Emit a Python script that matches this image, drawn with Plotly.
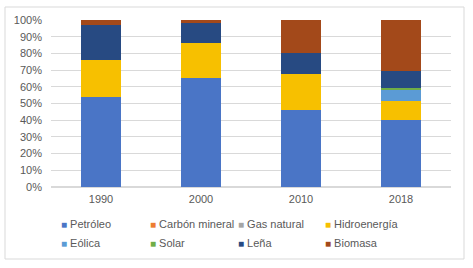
import plotly.graph_objects as go

years = ["1990", "2000", "2010", "2018"]
petroleo = [54, 65, 46, 40]
carbon = [0, 0, 0, 0]
gas = [0, 0, 0, 0]
hidro = [22, 21, 21.5, 11.3]
eolica = [0, 0, 0, 7.3]
solar = [0, 0, 0, 0.6]
lena = [21, 12.4, 13, 10.4]
biomasa = [3, 1.6, 19.5, 30.4]

series = [
    ("Petróleo", petroleo, "#4A75C6"),
    ("Carbón mineral", carbon, "#ED7D31"),
    ("Gas natural", gas, "#A5A5A5"),
    ("Hidroenergía", hidro, "#F7C000"),
    ("Eólica", eolica, "#5B9BD5"),
    ("Solar", solar, "#70AD47"),
    ("Leña", lena, "#274A82"),
    ("Biomasa", biomasa, "#A3491A"),
]
legend_ids = ["legend", "legend2", "legend3", "legend4"]

fig = go.Figure()
for name, vals, col in series:
    fig.add_trace(go.Bar(x=years, y=vals, name=name, legendgroup=name, showlegend=False,
                         marker=dict(color=col, line=dict(width=0))))
for i, (name, vals, col) in enumerate(series):
    label = f"<span style='color:{col};font-size:10px'>■</span> {name}"
    fig.add_trace(go.Scatter(x=[None], y=[None], mode="markers", name=label, legendgroup=name,
                             legend=legend_ids[i % 4],
                             marker=dict(symbol="square", size=1, color="rgba(0,0,0,0)"),
                             showlegend=True, hoverinfo="skip"))

sym_left = [62, 151, 239, 326]
legend_common = dict(orientation="v", xref="container", xanchor="left",
                     yref="paper", y=(187 - 209.5) / 167, yanchor="top",
                     traceorder="normal", font=dict(size=11, color="#595959"),
                     tracegroupgap=0, bgcolor="rgba(0,0,0,0)")
legends = {}
for lid, sx in zip(legend_ids, sym_left):
    legends[lid] = dict(legend_common, x=(sx - 41) / 473)

fig.update_layout(
    width=473, height=268,
    barmode="stack", bargap=0.6,
    margin=dict(l=51, r=22, t=20, b=81, autoexpand=False),
    paper_bgcolor="white", plot_bgcolor="white",
    font=dict(family="Arial", size=11, color="#595959"),
    showlegend=True,
    xaxis=dict(showline=False, ticks="", tickfont=dict(size=11), ticklabelstandoff=4),
    yaxis=dict(range=[0, 100], dtick=10, ticksuffix="%", gridcolor="#D9D9D9",
               gridwidth=1, zeroline=True, zerolinecolor="#D9D9D9", showline=False,
               ticklabelstandoff=8),
    shapes=[dict(type="rect", xref="paper", yref="paper",
                 x0=(5 - 51) / 400, x1=(464 - 51) / 400,
                 y0=(187 - 259) / 167, y1=(187 - 7) / 167,
                 line=dict(color="#D9D9D9", width=1), layer="below")],
    **legends,
)

fig.write_html("out.html", config={"displayModeBar": False},
               post_script="document.body.style.margin='0';")
